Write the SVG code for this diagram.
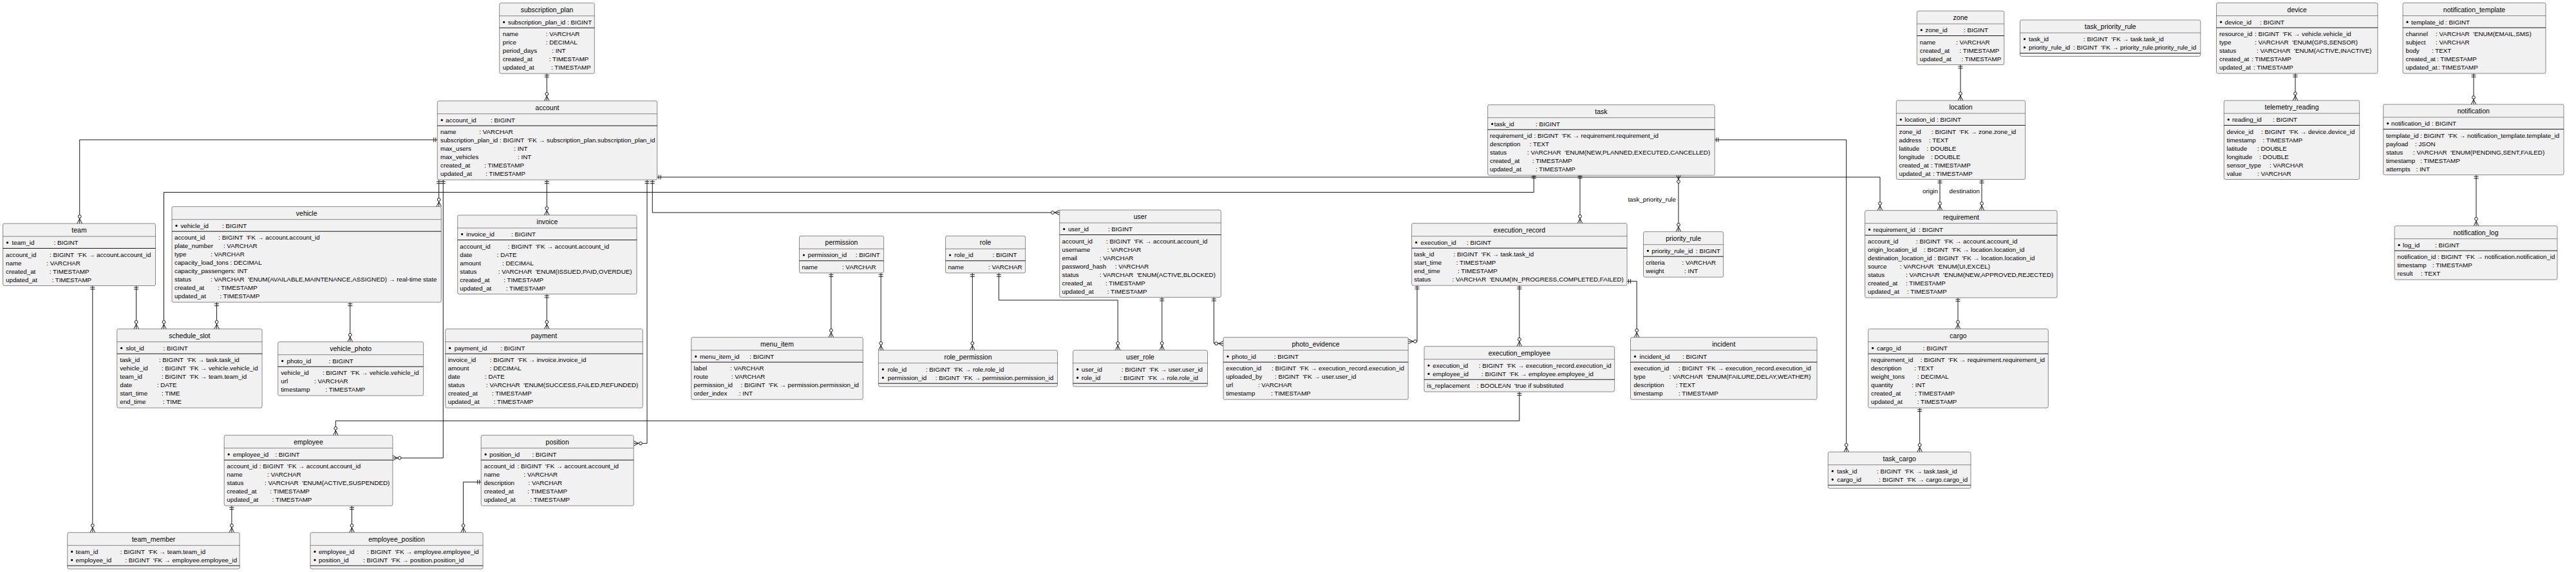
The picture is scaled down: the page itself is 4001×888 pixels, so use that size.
<svg xmlns="http://www.w3.org/2000/svg" width="4001" height="888" viewBox="0 0 4001 888" xml:space="preserve">
<style>
text{font-family:"Liberation Sans",Arial,Helvetica,sans-serif;fill:#000;white-space:pre}
.e rect{fill:#F1F1F1;stroke:#181818;stroke-width:.5}
.e text{font-size:9.8px}
.e .t{font-size:10.5px;text-anchor:middle}
.h{stroke:#181818;stroke-width:.5}
.k{stroke:#181818;stroke-width:1}
.e circle{fill:#000}
.c path{fill:none;stroke:#181818;stroke-width:1;marker-start:url(#one);marker-end:url(#many)}
.c path.mm{marker-start:url(#many)}
.c text{font-size:9.8px}
</style>
<defs>
<marker id="one" markerUnits="userSpaceOnUse" orient="auto-start-reverse" markerWidth="20" markerHeight="20" refX="0" refY="0" overflow="visible"><path d="M-2.5,-3.5V3.5M-5.5,-3.5V3.5" fill="none" stroke="#181818" stroke-width="1"/></marker>
<marker id="many" markerUnits="userSpaceOnUse" orient="auto-start-reverse" markerWidth="20" markerHeight="20" refX="0" refY="0" overflow="visible"><path d="M-7.5,0L0,-3.8M-7.5,0L0,3.8" fill="none" stroke="#181818" stroke-width="1"/><circle cx="-10.8" cy="0" r="2.4" fill="#fff" stroke="#181818" stroke-width="1"/></marker>
</defs>
<rect width="4001" height="888" fill="#fff"/>

<g id="connectors" class="c">
<path d="M849.3,114.2V156.7"/>
<path d="M679.3,217H123.7V347"/>
<path d="M681.7,279.2V320.7"/>
<path d="M688.3,279.2V711H609.9"/>
<path d="M849.3,279.2V334"/>
<path d="M849.3,456.5V510.7"/>
<path d="M1005,279.2V688.3H984.2"/>
<path d="M1013.3,279.2V330H1645.7"/>
<path d="M1020.7,275H2920V326.7"/>
<path d="M2382.3,271.2V298.5H254.5V510.7"/>
<path d="M211.6,443.5V510.7"/>
<path d="M336.6,469.2V510.7"/>
<path d="M543.8,469.2V530.7"/>
<path d="M143.8,443.5V826.7"/>
<path d="M359.9,785.2V826.7"/>
<path d="M546.5,785.2V826.7"/>
<path d="M747.2,748.3H719.6V826.7"/>
<path d="M1290.9,423.8V523.7"/>
<path d="M1368.2,423.8V543.7"/>
<path d="M1510.3,423.8V543.7"/>
<path d="M1551.4,423.8V466H1736.2V543.7"/>
<path d="M1804.8,461.5V543.7"/>
<path d="M1885.4,461.5V533.3H1900"/>
<path d="M2454,271.2V346.7"/>
<path class="mm" d="M2607,271.2V359.7"/>
<path d="M2201,443.2V530H2187.2"/>
<path d="M2359.9,443.2V537.7"/>
<path d="M2527.1,436.7H2542.2V523.7"/>
<path d="M2359.9,608.2V653.3H521.3V675.7"/>
<path d="M2663.3,217H2867.7V701.7"/>
<path d="M2981.7,633.2V701.7"/>
<path d="M3041,462.2V510.7"/>
<path d="M3045,100.5V156"/>
<path d="M3013,278.5V326.7"/>
<path d="M3078,278.5V326.7"/>
<path d="M3565,114V156"/>
<path d="M3842,114V162"/>
<path d="M3846,271.5V350.7"/>
<text x="2603" y="313" text-anchor="end">task_priority_rule</text>
<text x="3010" y="300" text-anchor="end">origin</text>
<text x="3075" y="300" text-anchor="end">destination</text>
</g>

<g id="subscription_plan" class="e">
<rect x="775.7" y="4.7" width="147.6" height="109.5" rx="2.5"/>
<line class="h" x1="775.7" y1="24.7" x2="923.3" y2="24.7"/><line class="k" x1="775.7" y1="43.2" x2="923.3" y2="43.2"/>
<text class="t" x="849.5" y="18.7">subscription_plan</text>
<circle cx="782.7" cy="34.4" r="1.6"/><text x="789" y="37.7">subscription_plan_id : BIGINT</text>
<text x="780.7" y="56.2">name</text><text x="847.7" y="56.2">: VARCHAR</text>
<text x="780.7" y="69.2">price</text><text x="847.7" y="69.2">: DECIMAL</text>
<text x="780.7" y="82.2">period_days</text><text x="857.3" y="82.2">: INT</text>
<text x="780.7" y="95.2">created_at</text><text x="852.7" y="95.2">: TIMESTAMP</text>
<text x="780.7" y="108.2">updated_at</text><text x="856" y="108.2">: TIMESTAMP</text>
</g>

<g id="account" class="e">
<rect x="679.3" y="156.7" width="341.4" height="122.5" rx="2.5"/>
<line class="h" x1="679.3" y1="176.7" x2="1020.7" y2="176.7"/><line class="k" x1="679.3" y1="195.2" x2="1020.7" y2="195.2"/>
<text class="t" x="850" y="170.7">account</text>
<circle cx="686.3" cy="186.4" r="1.6"/><text x="692.3" y="189.7">account_id</text><text x="762" y="189.7">: BIGINT</text>
<text x="684" y="208.2">name</text><text x="744.3" y="208.2">: VARCHAR</text>
<text x="684" y="221.2">subscription_plan_id</text><text x="776.1" y="221.2">: BIGINT  'FK → subscription_plan.subscription_plan_id</text>
<text x="684" y="234.2">max_users</text><text x="798.3" y="234.2">: INT</text>
<text x="684" y="247.2">max_vehicles</text><text x="804" y="247.2">: INT</text>
<text x="684" y="260.2">created_at</text><text x="752.3" y="260.2">: TIMESTAMP</text>
<text x="684" y="273.2">updated_at</text><text x="754.3" y="273.2">: TIMESTAMP</text>
</g>

<g id="team" class="e">
<rect x="4.5" y="347" width="237" height="96.5" rx="2.5"/>
<line class="h" x1="4.5" y1="367" x2="241.5" y2="367"/><line class="k" x1="4.5" y1="385.5" x2="241.5" y2="385.5"/>
<text class="t" x="123" y="361">team</text>
<circle cx="11.5" cy="376.7" r="1.6"/><text x="18.5" y="380">team_id</text><text x="83.5" y="380">: BIGINT</text>
<text x="9" y="398.5">account_id</text><text x="77" y="398.5">: BIGINT  'FK → account.account_id</text>
<text x="9" y="411.5">name</text><text x="72.3" y="411.5">: VARCHAR</text>
<text x="9" y="424.5">created_at</text><text x="76.8" y="424.5">: TIMESTAMP</text>
<text x="9" y="437.5">updated_at</text><text x="80.4" y="437.5">: TIMESTAMP</text>
</g>

<g id="vehicle" class="e">
<rect x="267" y="320.7" width="418.3" height="148.5" rx="2.5"/>
<line class="h" x1="267" y1="340.7" x2="685.3" y2="340.7"/><line class="k" x1="267" y1="359.2" x2="685.3" y2="359.2"/>
<text class="t" x="476.2" y="334.7">vehicle</text>
<circle cx="274" cy="350.4" r="1.6"/><text x="280.4" y="353.7">vehicle_id</text><text x="345.1" y="353.7">: BIGINT</text>
<text x="271" y="372.2">account_id</text><text x="339.3" y="372.2">: BIGINT  'FK → account.account_id</text>
<text x="271" y="385.2">plate_number</text><text x="346.9" y="385.2">: VARCHAR</text>
<text x="271" y="398.2">type</text><text x="327.2" y="398.2">: VARCHAR</text>
<text x="271" y="411.2">capacity_load_tons : DECIMAL</text>
<text x="271" y="424.2">capacity_passengers: INT</text>
<text x="271" y="437.2">status</text><text x="327" y="437.2">: VARCHAR  'ENUM(AVAILABLE,MAINTENANCE,ASSIGNED) → real-time state</text>
<text x="271" y="450.2">created_at</text><text x="338" y="450.2">: TIMESTAMP</text>
<text x="271" y="463.2">updated_at</text><text x="341.5" y="463.2">: TIMESTAMP</text>
</g>

<g id="schedule_slot" class="e">
<rect x="181.7" y="510.7" width="225.4" height="122.5" rx="2.5"/>
<line class="h" x1="181.7" y1="530.7" x2="407.1" y2="530.7"/><line class="k" x1="181.7" y1="549.2" x2="407.1" y2="549.2"/>
<text class="t" x="294.4" y="524.7">schedule_slot</text>
<circle cx="188.7" cy="540.4" r="1.6"/><text x="195.5" y="543.7">slot_id</text><text x="253.6" y="543.7">: BIGINT</text>
<text x="186.2" y="562.2">task_id</text><text x="246.9" y="562.2">: BIGINT  'FK → task.task_id</text>
<text x="186.2" y="575.2">vehicle_id</text><text x="250.9" y="575.2">: BIGINT  'FK → vehicle.vehicle_id</text>
<text x="186.2" y="588.2">team_id</text><text x="250.9" y="588.2">: BIGINT  'FK → team.team_id</text>
<text x="186.2" y="601.2">date</text><text x="243.8" y="601.2">: DATE</text>
<text x="186.2" y="614.2">start_time</text><text x="250.9" y="614.2">: TIME</text>
<text x="186.2" y="627.2">end_time</text><text x="253.1" y="627.2">: TIME</text>
</g>

<g id="vehicle_photo" class="e">
<rect x="431.7" y="530.7" width="225.9" height="83.5" rx="2.5"/>
<line class="h" x1="431.7" y1="550.7" x2="657.6" y2="550.7"/><line class="k" x1="431.7" y1="569.2" x2="657.6" y2="569.2"/>
<text class="t" x="544.7" y="544.7">vehicle_photo</text>
<circle cx="438.7" cy="560.4" r="1.6"/><text x="445.5" y="563.7">photo_id</text><text x="510.7" y="563.7">: BIGINT</text>
<text x="436.2" y="582.2">vehicle_id</text><text x="500.9" y="582.2">: BIGINT  'FK → vehicle.vehicle_id</text>
<text x="436.2" y="595.2">url</text><text x="488" y="595.2">: VARCHAR</text>
<text x="436.2" y="608.2">timestamp</text><text x="505.4" y="608.2">: TIMESTAMP</text>
</g>

<g id="invoice" class="e">
<rect x="710.7" y="334" width="278.3" height="122.5" rx="2.5"/>
<line class="h" x1="710.7" y1="354" x2="989" y2="354"/><line class="k" x1="710.7" y1="372.5" x2="989" y2="372.5"/>
<text class="t" x="849.9" y="348">invoice</text>
<circle cx="717.7" cy="363.7" r="1.6"/><text x="724.3" y="367">invoice_id</text><text x="794" y="367">: BIGINT</text>
<text x="714.3" y="385.5">account_id</text><text x="788.7" y="385.5">: BIGINT  'FK → account.account_id</text>
<text x="714.3" y="398.5">date</text><text x="771.7" y="398.5">: DATE</text>
<text x="714.3" y="411.5">amount</text><text x="780" y="411.5">: DECIMAL</text>
<text x="714.3" y="424.5">status</text><text x="773.7" y="424.5">: VARCHAR  'ENUM(ISSUED,PAID,OVERDUE)</text>
<text x="714.3" y="437.5">created_at</text><text x="782.3" y="437.5">: TIMESTAMP</text>
<text x="714.3" y="450.5">updated_at</text><text x="785.7" y="450.5">: TIMESTAMP</text>
</g>

<g id="payment" class="e">
<rect x="691.7" y="510.7" width="306.6" height="122.5" rx="2.5"/>
<line class="h" x1="691.7" y1="530.7" x2="998.3" y2="530.7"/><line class="k" x1="691.7" y1="549.2" x2="998.3" y2="549.2"/>
<text class="t" x="845" y="524.7">payment</text>
<circle cx="698.7" cy="540.4" r="1.6"/><text x="705.7" y="543.7">payment_id</text><text x="777.3" y="543.7">: BIGINT</text>
<text x="695.7" y="562.2">invoice_id</text><text x="760.7" y="562.2">: BIGINT  'FK → invoice.invoice_id</text>
<text x="695.7" y="575.2">amount</text><text x="760.7" y="575.2">: DECIMAL</text>
<text x="695.7" y="588.2">date</text><text x="753" y="588.2">: DATE</text>
<text x="695.7" y="601.2">status</text><text x="755" y="601.2">: VARCHAR  'ENUM(SUCCESS,FAILED,REFUNDED)</text>
<text x="695.7" y="614.2">created_at</text><text x="764" y="614.2">: TIMESTAMP</text>
<text x="695.7" y="627.2">updated_at</text><text x="766.7" y="627.2">: TIMESTAMP</text>
</g>

<g id="employee" class="e">
<rect x="348.2" y="675.7" width="261.7" height="109.5" rx="2.5"/>
<line class="h" x1="348.2" y1="695.7" x2="609.9" y2="695.7"/><line class="k" x1="348.2" y1="714.2" x2="609.9" y2="714.2"/>
<text class="t" x="479" y="689.7">employee</text>
<circle cx="355.2" cy="705.4" r="1.6"/><text x="361.7" y="708.7">employee_id</text><text x="427.4" y="708.7">: BIGINT</text>
<text x="352.3" y="727.2">account_id</text><text x="402.7" y="727.2">: BIGINT  'FK → account.account_id</text>
<text x="352.3" y="740.2">name</text><text x="415" y="740.2">: VARCHAR</text>
<text x="352.3" y="753.2">status</text><text x="411" y="753.2">: VARCHAR  'ENUM(ACTIVE,SUSPENDED)</text>
<text x="352.3" y="766.2">created_at</text><text x="419.2" y="766.2">: TIMESTAMP</text>
<text x="352.3" y="779.2">updated_at</text><text x="422.7" y="779.2">: TIMESTAMP</text>
</g>

<g id="position" class="e">
<rect x="747.2" y="675.7" width="237" height="109.5" rx="2.5"/>
<line class="h" x1="747.2" y1="695.7" x2="984.2" y2="695.7"/><line class="k" x1="747.2" y1="714.2" x2="984.2" y2="714.2"/>
<text class="t" x="865.7" y="689.7">position</text>
<circle cx="754.2" cy="705.4" r="1.6"/><text x="760.3" y="708.7">position_id</text><text x="826.4" y="708.7">: BIGINT</text>
<text x="751.7" y="727.2">account_id</text><text x="803.5" y="727.2">: BIGINT  'FK → account.account_id</text>
<text x="751.7" y="740.2">name</text><text x="813.5" y="740.2">: VARCHAR</text>
<text x="751.7" y="753.2">description</text><text x="820.5" y="753.2">: VARCHAR</text>
<text x="751.7" y="766.2">created_at</text><text x="819.3" y="766.2">: TIMESTAMP</text>
<text x="751.7" y="779.2">updated_at</text><text x="823.4" y="779.2">: TIMESTAMP</text>
</g>

<g id="team_member" class="e">
<rect x="104.7" y="826.7" width="267.5" height="56.5" rx="2.5"/>
<line class="h" x1="104.7" y1="846.7" x2="372.2" y2="846.7"/><line class="k" x1="104.7" y1="878.2" x2="372.2" y2="878.2"/>
<text class="t" x="238.5" y="840.7">team_member</text>
<circle cx="111.7" cy="856.4" r="1.6"/><text x="117.6" y="859.7">team_id</text><text x="186.8" y="859.7">: BIGINT  'FK → team.team_id</text>
<circle cx="111.7" cy="869.4" r="1.6"/><text x="117.6" y="872.7">employee_id</text><text x="194.4" y="872.7">: BIGINT  'FK → employee.employee_id</text>
</g>

<g id="employee_position" class="e">
<rect x="482" y="826.7" width="268.1" height="56.5" rx="2.5"/>
<line class="h" x1="482" y1="846.7" x2="750.1" y2="846.7"/><line class="k" x1="482" y1="878.2" x2="750.1" y2="878.2"/>
<text class="t" x="616" y="840.7">employee_position</text>
<circle cx="489" cy="856.4" r="1.6"/><text x="494.9" y="859.7">employee_id</text><text x="570" y="859.7">: BIGINT  'FK → employee.employee_id</text>
<circle cx="489" cy="869.4" r="1.6"/><text x="494.9" y="872.7">position_id</text><text x="564.1" y="872.7">: BIGINT  'FK → position.position_id</text>
</g>

<g id="permission" class="e">
<rect x="1241.5" y="366.3" width="131.1" height="57.5" rx="2.5"/>
<line class="h" x1="1241.5" y1="386.3" x2="1372.6" y2="386.3"/><line class="k" x1="1241.5" y1="404.8" x2="1372.6" y2="404.8"/>
<text class="t" x="1307" y="380.3">permission</text>
<circle cx="1248.5" cy="396" r="1.6"/><text x="1254.7" y="399.3">permission_id</text><text x="1328.7" y="399.3">: BIGINT</text>
<text x="1245.4" y="417.8">name</text><text x="1307.9" y="417.8">: VARCHAR</text>
</g>

<g id="role" class="e">
<rect x="1468.6" y="366.3" width="124" height="57.5" rx="2.5"/>
<line class="h" x1="1468.6" y1="386.3" x2="1592.6" y2="386.3"/><line class="k" x1="1468.6" y1="404.8" x2="1592.6" y2="404.8"/>
<text class="t" x="1530.6" y="380.3">role</text>
<circle cx="1475.6" cy="396" r="1.6"/><text x="1482.3" y="399.3">role_id</text><text x="1541.5" y="399.3">: BIGINT</text>
<text x="1472.4" y="417.8">name</text><text x="1535" y="417.8">: VARCHAR</text>
</g>

<g id="user" class="e">
<rect x="1645.7" y="326" width="250.7" height="135.5" rx="2.5"/>
<line class="h" x1="1645.7" y1="346" x2="1896.4" y2="346"/><line class="k" x1="1645.7" y1="364.5" x2="1896.4" y2="364.5"/>
<text class="t" x="1771" y="340">user</text>
<circle cx="1652.7" cy="355.7" r="1.6"/><text x="1658.9" y="359">user_id</text><text x="1720.9" y="359">: BIGINT</text>
<text x="1649.6" y="377.5">account_id</text><text x="1718.1" y="377.5">: BIGINT  'FK → account.account_id</text>
<text x="1649.6" y="390.5">username</text><text x="1719.8" y="390.5">: VARCHAR</text>
<text x="1649.6" y="403.5">email</text><text x="1707.7" y="403.5">: VARCHAR</text>
<text x="1649.6" y="416.5">password_hash</text><text x="1731.8" y="416.5">: VARCHAR</text>
<text x="1649.6" y="429.5">status</text><text x="1707.7" y="429.5">: VARCHAR  'ENUM(ACTIVE,BLOCKED)</text>
<text x="1649.6" y="442.5">created_at</text><text x="1717" y="442.5">: TIMESTAMP</text>
<text x="1649.6" y="455.5">updated_at</text><text x="1719.8" y="455.5">: TIMESTAMP</text>
</g>

<g id="menu_item" class="e">
<rect x="1073.7" y="523.7" width="266.6" height="96.5" rx="2.5"/>
<line class="h" x1="1073.7" y1="543.7" x2="1340.3" y2="543.7"/><line class="k" x1="1073.7" y1="562.2" x2="1340.3" y2="562.2"/>
<text class="t" x="1207" y="537.7">menu_item</text>
<circle cx="1080.7" cy="553.4" r="1.6"/><text x="1086.9" y="556.7">menu_item_id</text><text x="1164.2" y="556.7">: BIGINT</text>
<text x="1077.6" y="575.2">label</text><text x="1134" y="575.2">: VARCHAR</text>
<text x="1077.6" y="588.2">route</text><text x="1135.7" y="588.2">: VARCHAR</text>
<text x="1077.6" y="601.2">permission_id</text><text x="1150.5" y="601.2">: BIGINT  'FK → permission.permission_id</text>
<text x="1077.6" y="614.2">order_index</text><text x="1147.8" y="614.2">: INT</text>
</g>

<g id="role_permission" class="e">
<rect x="1364.4" y="543.7" width="278.1" height="56.5" rx="2.5"/>
<line class="h" x1="1364.4" y1="563.7" x2="1642.5" y2="563.7"/><line class="k" x1="1364.4" y1="595.2" x2="1642.5" y2="595.2"/>
<text class="t" x="1503.5" y="557.7">role_permission</text>
<circle cx="1371.4" cy="573.4" r="1.6"/><text x="1378.7" y="576.7">role_id</text><text x="1437.9" y="576.7">: BIGINT  'FK → role.role_id</text>
<circle cx="1371.4" cy="586.4" r="1.6"/><text x="1378.7" y="589.7">permission_id</text><text x="1452.7" y="589.7">: BIGINT  'FK → permission.permission_id</text>
</g>

<g id="user_role" class="e">
<rect x="1666.6" y="543.7" width="208.9" height="56.5" rx="2.5"/>
<line class="h" x1="1666.6" y1="563.7" x2="1875.5" y2="563.7"/><line class="k" x1="1666.6" y1="595.2" x2="1875.5" y2="595.2"/>
<text class="t" x="1771" y="557.7">user_role</text>
<circle cx="1673.6" cy="573.4" r="1.6"/><text x="1679.8" y="576.7">user_id</text><text x="1741.7" y="576.7">: BIGINT  'FK → user.user_id</text>
<circle cx="1673.6" cy="586.4" r="1.6"/><text x="1679.8" y="589.7">role_id</text><text x="1739.5" y="589.7">: BIGINT  'FK → role.role_id</text>
</g>

<g id="photo_evidence" class="e">
<rect x="1900" y="523.7" width="287.2" height="96.5" rx="2.5"/>
<line class="h" x1="1900" y1="543.7" x2="2187.2" y2="543.7"/><line class="k" x1="1900" y1="562.2" x2="2187.2" y2="562.2"/>
<text class="t" x="2043.6" y="537.7">photo_evidence</text>
<circle cx="1907" cy="553.4" r="1.6"/><text x="1913.3" y="556.7">photo_id</text><text x="1978.8" y="556.7">: BIGINT</text>
<text x="1904.2" y="575.2">execution_id</text><text x="1975.1" y="575.2">: BIGINT  'FK → execution_record.execution_id</text>
<text x="1904.2" y="588.2">uploaded_by</text><text x="1980" y="588.2">: BIGINT  'FK → user.user_id</text>
<text x="1904.2" y="601.2">url</text><text x="1953.9" y="601.2">: VARCHAR</text>
<text x="1904.2" y="614.2">timestamp</text><text x="1973.9" y="614.2">: TIMESTAMP</text>
</g>

<g id="task" class="e">
<rect x="2310.7" y="162.7" width="352.6" height="109.5" rx="2.5"/>
<line class="h" x1="2310.7" y1="182.7" x2="2663.3" y2="182.7"/><line class="k" x1="2310.7" y1="201.2" x2="2663.3" y2="201.2"/>
<text class="t" x="2487" y="176.7">task</text>
<circle cx="2317.7" cy="192.4" r="1.6"/><text x="2320.7" y="195.7">task_id</text><text x="2385" y="195.7">: BIGINT</text>
<text x="2314" y="214.2">requirement_id</text><text x="2382.5" y="214.2">: BIGINT  'FK → requirement.requirement_id</text>
<text x="2314" y="227.2">description</text><text x="2375.7" y="227.2">: TEXT</text>
<text x="2314" y="240.2">status</text><text x="2372" y="240.2">: VARCHAR  'ENUM(NEW,PLANNED,EXECUTED,CANCELLED)</text>
<text x="2314" y="253.2">created_at</text><text x="2380" y="253.2">: TIMESTAMP</text>
<text x="2314" y="266.2">updated_at</text><text x="2385" y="266.2">: TIMESTAMP</text>
</g>

<g id="execution_record" class="e">
<rect x="2192.6" y="346.7" width="334.5" height="96.5" rx="2.5"/>
<line class="h" x1="2192.6" y1="366.7" x2="2527.1" y2="366.7"/><line class="k" x1="2192.6" y1="385.2" x2="2527.1" y2="385.2"/>
<text class="t" x="2359.9" y="360.7">execution_record</text>
<circle cx="2199.6" cy="376.4" r="1.6"/><text x="2206.6" y="379.7">execution_id</text><text x="2278" y="379.7">: BIGINT</text>
<text x="2196.3" y="398.2">task_id</text><text x="2257.5" y="398.2">: BIGINT  'FK → task.task_id</text>
<text x="2196.3" y="411.2">start_time</text><text x="2261.7" y="411.2">: TIMESTAMP</text>
<text x="2196.3" y="424.2">end_time</text><text x="2264.1" y="424.2">: TIMESTAMP</text>
<text x="2196.3" y="437.2">status</text><text x="2255.6" y="437.2">: VARCHAR  'ENUM(IN_PROGRESS,COMPLETED,FAILED)</text>
</g>

<g id="priority_rule" class="e">
<rect x="2552.5" y="359.7" width="124.2" height="70.5" rx="2.5"/>
<line class="h" x1="2552.5" y1="379.7" x2="2676.7" y2="379.7"/><line class="k" x1="2552.5" y1="398.2" x2="2676.7" y2="398.2"/>
<text class="t" x="2614.6" y="373.7">priority_rule</text>
<circle cx="2559.5" cy="389.4" r="1.6"/><text x="2565.3" y="392.7">priority_rule_id</text><text x="2634" y="392.7">: BIGINT</text>
<text x="2556.2" y="411.2">criteria</text><text x="2612.5" y="411.2">: VARCHAR</text>
<text x="2556.2" y="424.2">weight</text><text x="2616.1" y="424.2">: INT</text>
</g>

<g id="execution_employee" class="e">
<rect x="2212" y="537.7" width="295.7" height="70.5" rx="2.5"/>
<line class="h" x1="2212" y1="557.7" x2="2507.7" y2="557.7"/><line class="k" x1="2212" y1="589.2" x2="2507.7" y2="589.2"/>
<text class="t" x="2359.9" y="551.7">execution_employee</text>
<circle cx="2219" cy="567.4" r="1.6"/><text x="2225.3" y="570.7">execution_id</text><text x="2296.8" y="570.7">: BIGINT  'FK → execution_record.execution_id</text>
<circle cx="2219" cy="580.4" r="1.6"/><text x="2225.3" y="583.7">employee_id</text><text x="2301.1" y="583.7">: BIGINT  'FK → employee.employee_id</text>
<text x="2216.3" y="602.2">is_replacement</text><text x="2293.8" y="602.2">: BOOLEAN  'true if substituted</text>
</g>

<g id="incident" class="e">
<rect x="2532.5" y="523.7" width="289.6" height="96.5" rx="2.5"/>
<line class="h" x1="2532.5" y1="543.7" x2="2822.1" y2="543.7"/><line class="k" x1="2532.5" y1="562.2" x2="2822.1" y2="562.2"/>
<text class="t" x="2677.3" y="537.7">incident</text>
<circle cx="2539.5" cy="553.4" r="1.6"/><text x="2546.5" y="556.7">incident_id</text><text x="2613.1" y="556.7">: BIGINT</text>
<text x="2537.4" y="575.2">execution_id</text><text x="2607" y="575.2">: BIGINT  'FK → execution_record.execution_id</text>
<text x="2537.4" y="588.2">type</text><text x="2592.5" y="588.2">: VARCHAR  'ENUM(FAILURE,DELAY,WEATHER)</text>
<text x="2537.4" y="601.2">description</text><text x="2602.8" y="601.2">: TEXT</text>
<text x="2537.4" y="614.2">timestamp</text><text x="2607" y="614.2">: TIMESTAMP</text>
</g>

<g id="zone" class="e">
<rect x="2977.3" y="17" width="135.5" height="83.5" rx="2.5"/>
<line class="h" x1="2977.3" y1="37" x2="3112.8" y2="37"/><line class="k" x1="2977.3" y1="55.5" x2="3112.8" y2="55.5"/>
<text class="t" x="3045" y="31">zone</text>
<circle cx="2984.3" cy="46.7" r="1.6"/><text x="2990.3" y="50">zone_id</text><text x="3050" y="50">: BIGINT</text>
<text x="2981.8" y="68.5">name</text><text x="3038" y="68.5">: VARCHAR</text>
<text x="2981.8" y="81.5">created_at</text><text x="3043.5" y="81.5">: TIMESTAMP</text>
<text x="2981.8" y="94.5">updated_at</text><text x="3046.6" y="94.5">: TIMESTAMP</text>
</g>

<g id="task_priority_rule" class="e">
<rect x="3137.5" y="31" width="280.3" height="56.5" rx="2.5"/>
<line class="h" x1="3137.5" y1="51" x2="3417.8" y2="51"/><line class="k" x1="3137.5" y1="82.5" x2="3417.8" y2="82.5"/>
<text class="t" x="3277.7" y="45">task_priority_rule</text>
<circle cx="3144.5" cy="60.7" r="1.6"/><text x="3151" y="64">task_id</text><text x="3236" y="64">: BIGINT  'FK → task.task_id</text>
<circle cx="3144.5" cy="73.7" r="1.6"/><text x="3151" y="77">priority_rule_id</text><text x="3220" y="77">: BIGINT  'FK → priority_rule.priority_rule_id</text>
</g>

<g id="device" class="e">
<rect x="3442.5" y="4.5" width="250.5" height="109.5" rx="2.5"/>
<line class="h" x1="3442.5" y1="24.5" x2="3693" y2="24.5"/><line class="k" x1="3442.5" y1="43" x2="3693" y2="43"/>
<text class="t" x="3567.8" y="18.5">device</text>
<circle cx="3449.5" cy="34.2" r="1.6"/><text x="3455.5" y="37.5">device_id</text><text x="3510" y="37.5">: BIGINT</text>
<text x="3447" y="56">resource_id</text><text x="3502" y="56">: BIGINT  'FK → vehicle.vehicle_id</text>
<text x="3447" y="69">type</text><text x="3502" y="69">: VARCHAR  'ENUM(GPS,SENSOR)</text>
<text x="3447" y="82">status</text><text x="3505" y="82">: VARCHAR  'ENUM(ACTIVE,INACTIVE)</text>
<text x="3447" y="95">created_at</text><text x="3497" y="95">: TIMESTAMP</text>
<text x="3447" y="108">updated_at</text><text x="3500" y="108">: TIMESTAMP</text>
</g>

<g id="notification_template" class="e">
<rect x="3732" y="4.5" width="222" height="109.5" rx="2.5"/>
<line class="h" x1="3732" y1="24.5" x2="3954" y2="24.5"/><line class="k" x1="3732" y1="43" x2="3954" y2="43"/>
<text class="t" x="3843" y="18.5">notification_template</text>
<circle cx="3739" cy="34.2" r="1.6"/><text x="3745" y="37.5">template_id</text><text x="3798" y="37.5">: BIGINT</text>
<text x="3736.5" y="56">channel</text><text x="3783" y="56">: VARCHAR  'ENUM(EMAIL,SMS)</text>
<text x="3736.5" y="69">subject</text><text x="3783" y="69">: VARCHAR</text>
<text x="3736.5" y="82">body</text><text x="3777" y="82">: TEXT</text>
<text x="3736.5" y="95">created_at</text><text x="3785" y="95">: TIMESTAMP</text>
<text x="3736.5" y="108">updated_at</text><text x="3787" y="108">: TIMESTAMP</text>
</g>

<g id="location" class="e">
<rect x="2945.3" y="156" width="200.3" height="122.5" rx="2.5"/>
<line class="h" x1="2945.3" y1="176" x2="3145.6" y2="176"/><line class="k" x1="2945.3" y1="194.5" x2="3145.6" y2="194.5"/>
<text class="t" x="3045.5" y="170">location</text>
<circle cx="2952.3" cy="185.7" r="1.6"/><text x="2958.3" y="189">location_id</text><text x="3008" y="189">: BIGINT</text>
<text x="2949.5" y="207.5">zone_id</text><text x="3000" y="207.5">: BIGINT  'FK → zone.zone_id</text>
<text x="2949.5" y="220.5">address</text><text x="2996" y="220.5">: TEXT</text>
<text x="2949.5" y="233.5">latitude</text><text x="2992.5" y="233.5">: DOUBLE</text>
<text x="2949.5" y="246.5">longitude</text><text x="2999" y="246.5">: DOUBLE</text>
<text x="2949.5" y="259.5">created_at</text><text x="2999" y="259.5">: TIMESTAMP</text>
<text x="2949.5" y="272.5">updated_at</text><text x="3002" y="272.5">: TIMESTAMP</text>
</g>

<g id="telemetry_reading" class="e">
<rect x="3454.2" y="156" width="210.5" height="122.5" rx="2.5"/>
<line class="h" x1="3454.2" y1="176" x2="3664.7" y2="176"/><line class="k" x1="3454.2" y1="194.5" x2="3664.7" y2="194.5"/>
<text class="t" x="3559.5" y="170">telemetry_reading</text>
<circle cx="3461.2" cy="185.7" r="1.6"/><text x="3467" y="189">reading_id</text><text x="3530" y="189">: BIGINT</text>
<text x="3458.5" y="207.5">device_id</text><text x="3512" y="207.5">: BIGINT  'FK → device.device_id</text>
<text x="3458.5" y="220.5">timestamp</text><text x="3514.6" y="220.5">: TIMESTAMP</text>
<text x="3458.5" y="233.5">latitude</text><text x="3506" y="233.5">: DOUBLE</text>
<text x="3458.5" y="246.5">longitude</text><text x="3509" y="246.5">: DOUBLE</text>
<text x="3458.5" y="259.5">sensor_type</text><text x="3525" y="259.5">: VARCHAR</text>
<text x="3458.5" y="272.5">value</text><text x="3506" y="272.5">: VARCHAR</text>
</g>

<g id="notification" class="e">
<rect x="3701.7" y="162" width="280.3" height="109.5" rx="2.5"/>
<line class="h" x1="3701.7" y1="182" x2="3982" y2="182"/><line class="k" x1="3701.7" y1="200.5" x2="3982" y2="200.5"/>
<text class="t" x="3841.8" y="176">notification</text>
<circle cx="3708.7" cy="191.7" r="1.6"/><text x="3714" y="195">notification_id</text><text x="3777" y="195">: BIGINT</text>
<text x="3706" y="213.5">template_id</text><text x="3759" y="213.5">: BIGINT  'FK → notification_template.template_id</text>
<text x="3706" y="226.5">payload</text><text x="3751" y="226.5">: JSON</text>
<text x="3706" y="239.5">status</text><text x="3748" y="239.5">: VARCHAR  'ENUM(PENDING,SENT,FAILED)</text>
<text x="3706" y="252.5">timestamp</text><text x="3759" y="252.5">: TIMESTAMP</text>
<text x="3706" y="265.5">attempts</text><text x="3752.7" y="265.5">: INT</text>
</g>

<g id="requirement" class="e">
<rect x="2896.6" y="326.7" width="298.5" height="135.5" rx="2.5"/>
<line class="h" x1="2896.6" y1="346.7" x2="3195.1" y2="346.7"/><line class="k" x1="2896.6" y1="365.2" x2="3195.1" y2="365.2"/>
<text class="t" x="3045.9" y="340.7">requirement</text>
<circle cx="2903.6" cy="356.4" r="1.6"/><text x="2909.6" y="359.7">requirement_id</text><text x="2980" y="359.7">: BIGINT</text>
<text x="2901" y="378.2">account_id</text><text x="2976" y="378.2">: BIGINT  'FK → account.account_id</text>
<text x="2901" y="391.2">origin_location_id</text><text x="2988" y="391.2">: BIGINT  'FK → location.location_id</text>
<text x="2901" y="404.2">destination_location_id</text><text x="3004" y="404.2">: BIGINT  'FK → location.location_id</text>
<text x="2901" y="417.2">source</text><text x="2951" y="417.2">: VARCHAR  'ENUM(UI,EXCEL)</text>
<text x="2901" y="430.2">status</text><text x="2960" y="430.2">: VARCHAR  'ENUM(NEW,APPROVED,REJECTED)</text>
<text x="2901" y="443.2">created_at</text><text x="2960" y="443.2">: TIMESTAMP</text>
<text x="2901" y="456.2">updated_at</text><text x="2962" y="456.2">: TIMESTAMP</text>
</g>

<g id="notification_log" class="e">
<rect x="3719.1" y="350.7" width="252.9" height="83.5" rx="2.5"/>
<line class="h" x1="3719.1" y1="370.7" x2="3972" y2="370.7"/><line class="k" x1="3719.1" y1="389.2" x2="3972" y2="389.2"/>
<text class="t" x="3845.5" y="364.7">notification_log</text>
<circle cx="3726.1" cy="380.4" r="1.6"/><text x="3732" y="383.7">log_id</text><text x="3782" y="383.7">: BIGINT</text>
<text x="3723.5" y="402.2">notification_id</text><text x="3786" y="402.2">: BIGINT  'FK → notification.notification_id</text>
<text x="3723.5" y="415.2">timestamp</text><text x="3778" y="415.2">: TIMESTAMP</text>
<text x="3723.5" y="428.2">result</text><text x="3760" y="428.2">: TEXT</text>
</g>

<g id="cargo" class="e">
<rect x="2901.7" y="510.7" width="279.6" height="122.5" rx="2.5"/>
<line class="h" x1="2901.7" y1="530.7" x2="3181.3" y2="530.7"/><line class="k" x1="2901.7" y1="549.2" x2="3181.3" y2="549.2"/>
<text class="t" x="3041.5" y="524.7">cargo</text>
<circle cx="2908.7" cy="540.4" r="1.6"/><text x="2915" y="543.7">cargo_id</text><text x="2986.7" y="543.7">: BIGINT</text>
<text x="2906" y="562.2">requirement_id</text><text x="2982.7" y="562.2">: BIGINT  'FK → requirement.requirement_id</text>
<text x="2906" y="575.2">description</text><text x="2973.3" y="575.2">: TEXT</text>
<text x="2906" y="588.2">weight_tons</text><text x="2977.7" y="588.2">: DECIMAL</text>
<text x="2906" y="601.2">quantity</text><text x="2969.3" y="601.2">: INT</text>
<text x="2906" y="614.2">created_at</text><text x="2974.3" y="614.2">: TIMESTAMP</text>
<text x="2906" y="627.2">updated_at</text><text x="2977.7" y="627.2">: TIMESTAMP</text>
</g>

<g id="task_cargo" class="e">
<rect x="2839.3" y="701.7" width="221.7" height="56.5" rx="2.5"/>
<line class="h" x1="2839.3" y1="721.7" x2="3061" y2="721.7"/><line class="k" x1="2839.3" y1="753.2" x2="3061" y2="753.2"/>
<text class="t" x="2950.2" y="715.7">task_cargo</text>
<circle cx="2846.3" cy="731.4" r="1.6"/><text x="2853.3" y="734.7">task_id</text><text x="2915" y="734.7">: BIGINT  'FK → task.task_id</text>
<circle cx="2846.3" cy="744.4" r="1.6"/><text x="2853.3" y="747.7">cargo_id</text><text x="2918.3" y="747.7">: BIGINT  'FK → cargo.cargo_id</text>
</g>
</svg>
